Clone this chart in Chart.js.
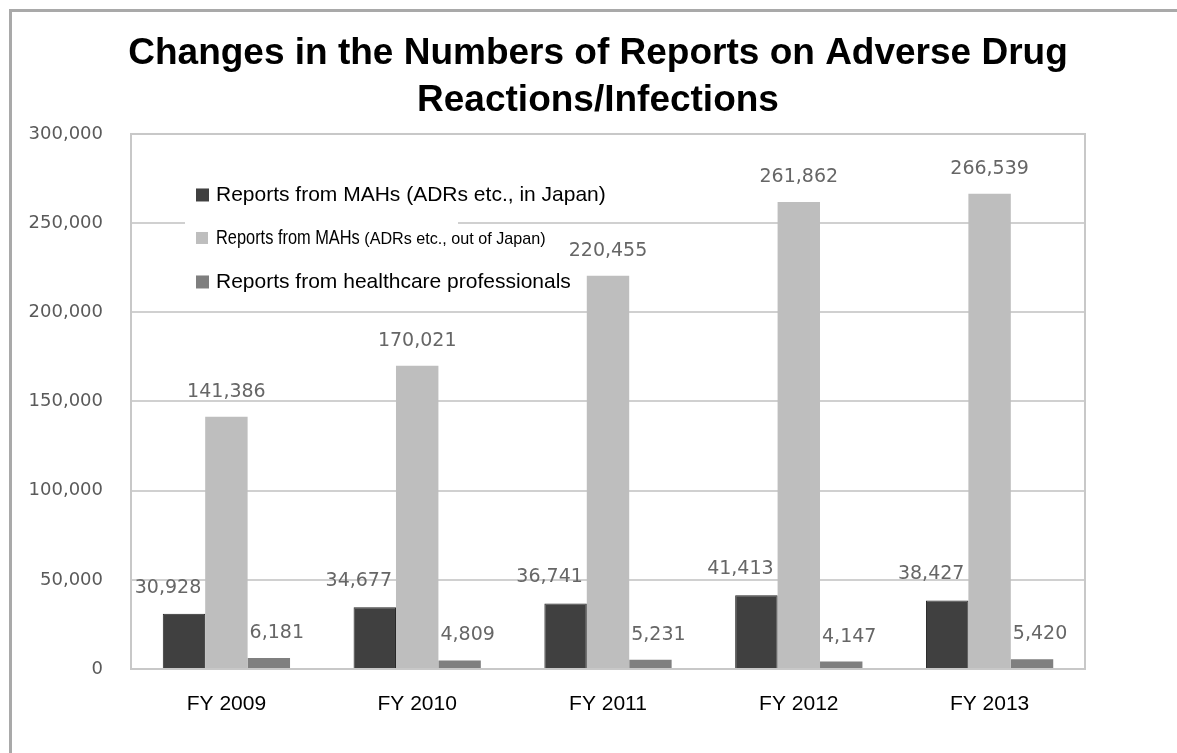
<!DOCTYPE html>
<html>
<head>
<meta charset="utf-8">
<title>Adverse drug reaction reports</title>
<script src="https://cdn.jsdelivr.net/npm/chart.js@4.4.1/dist/chart.umd.min.js"></script>
<style>
  html, body { margin: 0; padding: 0; background: #fff; }
  canvas { display: block; }
</style>
</head>
<body>
<canvas id="chart" width="1177" height="753"></canvas>
<script>
const years = ['FY 2009', 'FY 2010', 'FY 2011', 'FY 2012', 'FY 2013'];
const mahJapan = [30928, 34677, 36741, 41413, 38427];
const mahOverseas = [141386, 170021, 220455, 261862, 266539];
const healthcarePros = [6181, 4809, 5231, 4147, 5420];
const yTicks = [0, 50000, 100000, 150000, 200000, 250000, 300000];
const titleLines = ['Changes in the Numbers of Reports on Adverse Drug', 'Reactions/Infections'];

const SANS = '"Liberation Sans", Arial, sans-serif';
const fmt = v => v.toLocaleString('en-US');

// outer frame, plot border and a white patch behind the legend
const framePlugin = {
  id: 'frame',
  beforeDraw(chart) {
    const ctx = chart.ctx;
    ctx.save();
    ctx.fillStyle = '#fff';
    ctx.fillRect(0, 0, chart.width, chart.height);
    ctx.strokeStyle = '#a9a9a9';
    ctx.lineWidth = 3;
    ctx.beginPath();
    ctx.moveTo(10.5, chart.height);
    ctx.lineTo(10.5, 10.5);
    ctx.lineTo(chart.width, 10.5);
    ctx.stroke();
    ctx.restore();
  },
  beforeDatasetsDraw(chart) {
    const {ctx, chartArea: a} = chart;
    ctx.save();
    ctx.strokeStyle = '#c8c8c8';
    ctx.lineWidth = 2;
    ctx.strokeRect(a.left, a.top, a.right - a.left, a.bottom - a.top);
    ctx.fillStyle = '#fff';
    ctx.fillRect(a.left + 54, a.top + 46, 273, 115);
    ctx.restore();
  }
};

// legend drawn inside the plot area
const insetLegend = {
  id: 'insetLegend',
  afterDraw(chart) {
    const {ctx, chartArea: a} = chart;
    const x = a.left + 65;
    const rows = [a.top + 61, a.top + 104, a.top + 148];
    ctx.save();
    ctx.textBaseline = 'middle';
    chart.data.datasets.forEach((ds, i) => {
      const y = rows[i];
      const s = ds.narrowLegend ? 12 : 13;
      ctx.fillStyle = ds.backgroundColor;
      ctx.fillRect(x, y - s / 2, s, s);
      ctx.fillStyle = '#000';
      const tx = x + 20;
      if (ds.narrowLegend) {
        const cut = ds.label.indexOf(' (');
        const main = ds.label.slice(0, cut);
        const note = ds.label.slice(cut);
        ctx.save();
        ctx.translate(tx, y);
        ctx.scale(0.78, 1);
        ctx.font = '21px ' + SANS;
        ctx.fillText(main, 0, 0);
        const w = ctx.measureText(main).width * 0.78;
        ctx.restore();
        ctx.save();
        ctx.translate(tx + w, y + 1);
        ctx.scale(0.95, 1);
        ctx.font = '17px ' + SANS;
        ctx.fillText(note, 0, 0);
        ctx.restore();
      } else {
        ctx.font = '21px ' + SANS;
        ctx.fillText(ds.label, tx, y);
      }
    });
    ctx.restore();
  }
};

// value above each bar
const valueLabels = {
  id: 'valueLabels',
  afterDatasetsDraw(chart) {
    const ctx = chart.ctx;
    ctx.save();
    ctx.font = '19px "DejaVu Sans", sans-serif';
    ctx.fillStyle = '#666';
    ctx.textAlign = 'center';
    ctx.textBaseline = 'middle';
    chart.data.datasets.forEach((ds, i) => {
      const meta = chart.getDatasetMeta(i);
      const [dx, dy] = ds.labelShift;
      meta.data.forEach((bar, j) => {
        ctx.fillText(fmt(ds.data[j]), bar.x + dx, bar.y - dy);
      });
    });
    ctx.restore();
  }
};

new Chart(document.getElementById('chart'), {
  type: 'bar',
  data: {
    labels: years,
    datasets: [{
      label: 'Reports from MAHs (ADRs etc., in Japan)',
      data: mahJapan,
      backgroundColor: '#404040',
      borderColor: '#262626',
      borderWidth: 1,
      labelShift: [-16, 26]
    }, {
      label: 'Reports from MAHs (ADRs etc., out of Japan)',
      data: mahOverseas,
      backgroundColor: '#bebebe',
      narrowLegend: true,
      labelShift: [0, 25]
    }, {
      label: 'Reports from healthcare professionals',
      data: healthcarePros,
      backgroundColor: '#7f7f7f',
      labelShift: [8, 25]
    }]
  },
  options: {
    responsive: false,
    animation: false,
    devicePixelRatio: 1,
    datasets: {
      bar: { categoryPercentage: 0.667, barPercentage: 1.0 }
    },
    layout: { padding: { left: 19, right: 0, top: 0, bottom: 0 } },
    plugins: {
      legend: { display: false },
      tooltip: { enabled: false },
      title: {
        display: true,
        text: titleLines,
        color: '#000',
        font: { family: SANS, size: 37, weight: 'bold', lineHeight: 1.27 },
        padding: { top: 30, bottom: 10 }
      }
    },
    scales: {
      x: {
        grid: { display: false },
        border: { display: false },
        ticks: {
          color: '#000',
          font: { family: SANS, size: 21 },
          padding: 15,
          maxRotation: 0
        },
        afterFit(scale) { scale.height = 84; }
      },
      y: {
        min: yTicks[0],
        max: yTicks[yTicks.length - 1],
        grid: { color: '#d0d0d0', lineWidth: 2, drawTicks: false },
        border: { display: false },
        ticks: {
          stepSize: yTicks[1] - yTicks[0],
          color: '#5a5a5a',
          font: { family: '"DejaVu Sans", sans-serif', size: 18 },
          padding: 28,
          callback: v => fmt(v)
        },
        afterFit(scale) { scale.width = 112; }
      },
      // empty margin on the right of the plot
      spacer: {
        type: 'linear',
        position: 'right',
        grid: { display: false },
        border: { display: false },
        ticks: { display: false },
        afterFit(scale) { scale.width = 92; }
      }
    }
  },
  plugins: [framePlugin, insetLegend, valueLabels]
});
</script>
</body>
</html>
